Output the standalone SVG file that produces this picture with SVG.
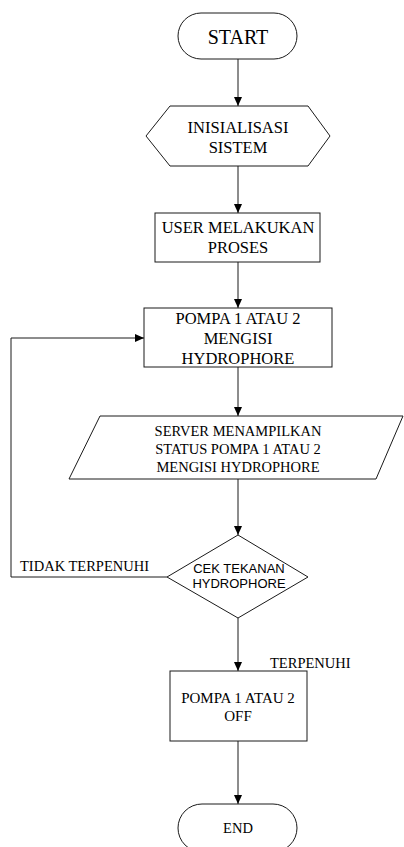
<svg xmlns="http://www.w3.org/2000/svg" width="404" height="847" viewBox="0 0 404 847">
<style>
.s{fill:#fff;stroke:#1a1a1a;stroke-width:1}
.t{font-family:"Liberation Serif","Times New Roman",serif;fill:#000;text-anchor:middle}
.a{font-family:"Liberation Sans",Arial,sans-serif;fill:#000;text-anchor:middle}
.c{fill:none;stroke:#1a1a1a;stroke-width:1}
</style>
<defs>
<marker id="ah" markerUnits="userSpaceOnUse" markerWidth="10" markerHeight="9" refX="9" refY="4" orient="auto">
<path d="M0,0 L9,4 L0,8 z" fill="#000"/>
</marker>
</defs>
<rect width="404" height="847" fill="#fff"/>
<g id="connectors">
<line class="c" x1="238" y1="59" x2="238" y2="106" marker-end="url(#ah)"/>
<line class="c" x1="238" y1="166" x2="238" y2="213" marker-end="url(#ah)"/>
<line class="c" x1="238" y1="262" x2="238" y2="308" marker-end="url(#ah)"/>
<line class="c" x1="238" y1="367" x2="238" y2="416" marker-end="url(#ah)"/>
<line class="c" x1="238" y1="479" x2="238" y2="535" marker-end="url(#ah)"/>
<line class="c" x1="238" y1="618" x2="238" y2="671" marker-end="url(#ah)"/>
<line class="c" x1="238" y1="741" x2="238" y2="804" marker-end="url(#ah)"/>
<polyline class="c" points="167,577 11,577 11,338 144,338" marker-end="url(#ah)"/>
<text class="t" x="20" y="571" font-size="14.5" text-anchor="start" style="text-anchor:start">TIDAK TERPENUHI</text>
<text class="t" x="270" y="668" font-size="14.5" style="text-anchor:start">TERPENUHI</text>
</g>
<g id="start">
<rect class="s" x="178" y="13" width="119" height="46" rx="23" ry="23"/>
<text class="t" x="238" y="44" font-size="20">START</text>
</g>
<g id="init">
<polygon class="s" points="146,136 170,106 308,106 330,136 308,166 170,166"/>
<text class="t" x="238" y="132.5" font-size="16.5">INISIALISASI</text>
<text class="t" x="238" y="152.5" font-size="16.5">SISTEM</text>
</g>
<g id="user">
<rect class="s" x="155" y="213" width="165" height="49"/>
<text class="t" x="238" y="232.5" font-size="16.5">USER MELAKUKAN</text>
<text class="t" x="238" y="252.5" font-size="16.5">PROSES</text>
</g>
<g id="pompa">
<rect class="s" x="144" y="308" width="188" height="59"/>
<text class="t" x="238" y="323.5" font-size="16.5">POMPA 1 ATAU 2</text>
<text class="t" x="238" y="343.5" font-size="16.5">MENGISI</text>
<text class="t" x="238" y="363.5" font-size="16.5">HYDROPHORE</text>
</g>
<g id="server">
<polygon class="s" points="100,416 403,416 376,479 69,479"/>
<text class="t" x="238" y="436" font-size="14.5">SERVER MENAMPILKAN</text>
<text class="t" x="238" y="454" font-size="14.5">STATUS POMPA 1 ATAU 2</text>
<text class="t" x="238" y="472" font-size="14.5">MENGISI HYDROPHORE</text>
</g>
<g id="cek">
<polygon class="s" points="238,535 308,577 238,618 167,577"/>
<text class="a" x="239" y="572.5" font-size="13">CEK TEKANAN</text>
<text class="a" x="239" y="587.5" font-size="13">HYDROPHORE</text>
</g>
<g id="off">
<rect class="s" x="170" y="671" width="137" height="70"/>
<text class="t" x="238" y="703" font-size="15">POMPA 1 ATAU 2</text>
<text class="t" x="238" y="721" font-size="15">OFF</text>
</g>
<g id="end">
<rect class="s" x="178" y="804" width="119" height="48" rx="24" ry="24"/>
<text class="t" x="238" y="833" font-size="14.5">END</text>
</g>
</svg>
